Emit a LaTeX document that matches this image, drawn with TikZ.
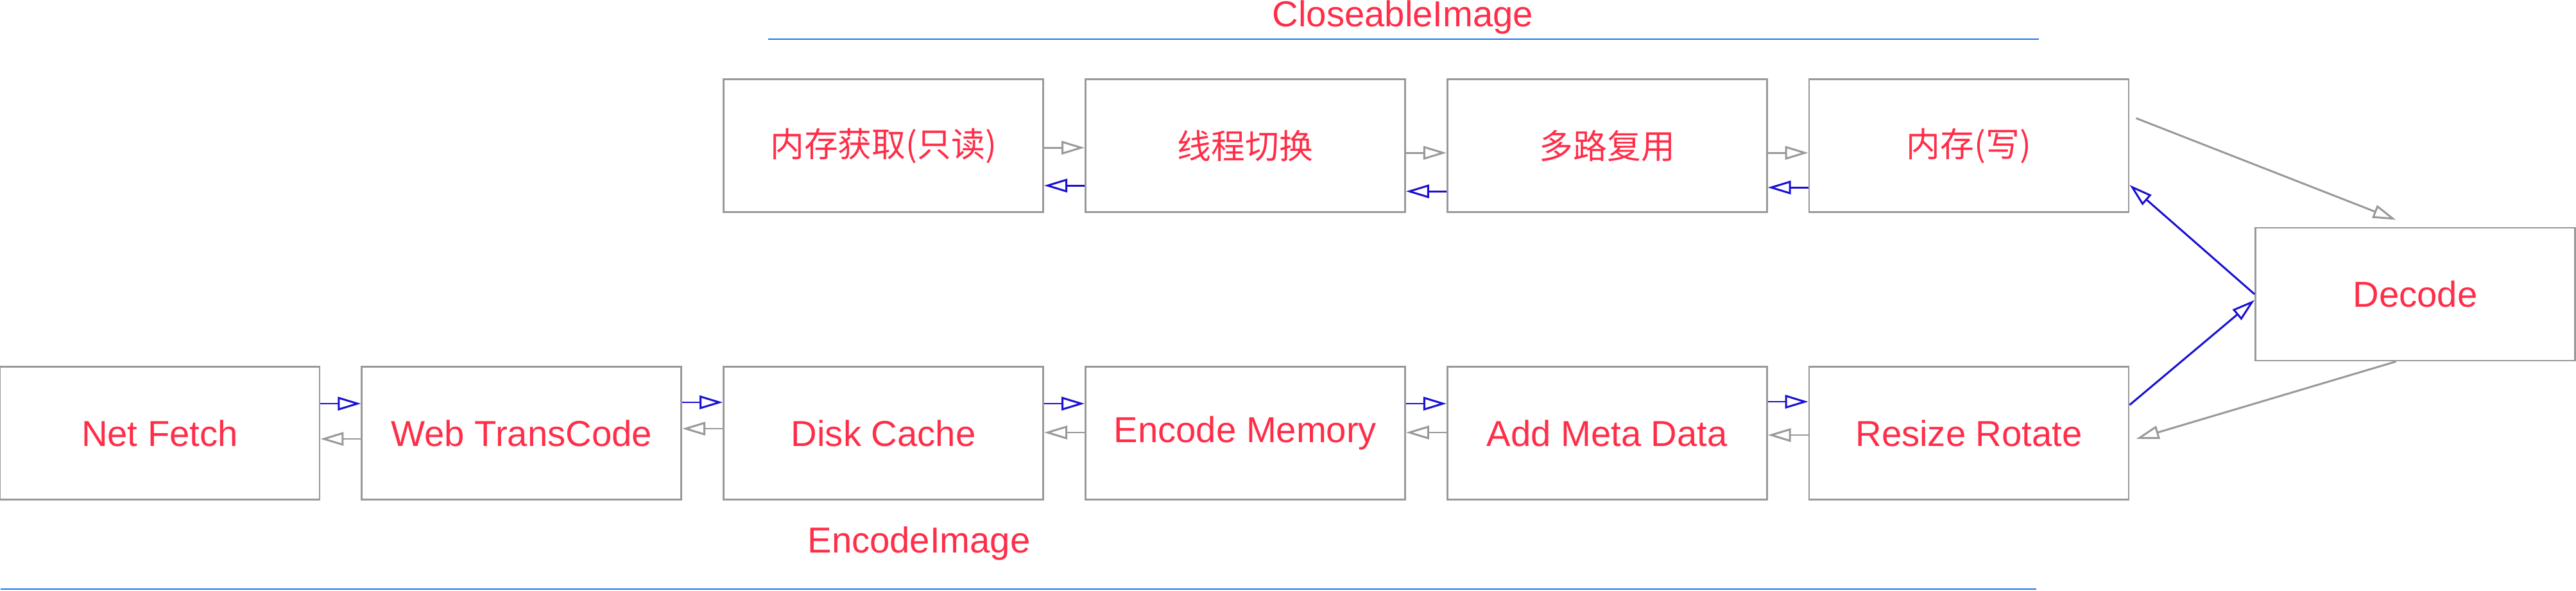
\documentclass[tikz,border=0pt]{standalone}
\usepackage{fontspec}
\setmainfont{Liberation Sans}
\newfontfamily\cjk{Noto Sans CJK SC}[Scale=0.94]
\usepackage{tikz}
\usetikzlibrary{arrows.meta}
\usetikzlibrary{positioning}
\definecolor{boxgray}{HTML}{999999}
\definecolor{txtred}{HTML}{FF2D48}
\definecolor{arrblue}{HTML}{1A10D0}
\definecolor{lineblue}{HTML}{1677F5}

\begin{document}
\begin{tikzpicture}
          [stage/.style={draw=boxgray, line width=0.8pt, minimum width=4.98cm,
                         minimum height=2.07cm, inner sep=0pt, text=txtred,
                         font=\fontsize{16}{19}\selectfont},
           caption/.style={text=txtred, anchor=base, font=\fontsize{16}{19}\selectfont},
           grayarr/.style={draw=boxgray, line width=0.85pt,
                           -{Triangle[open, length=3.6mm, width=2.1mm]}},
           bluearr/.style={draw=arrblue, line width=0.85pt,
                           -{Triangle[open, length=3.6mm, width=2.1mm]}},
           node distance=0.63cm]
          \useasboundingbox (0,0) rectangle (40.14,-9.21);

          \node (net) [stage] at (2.49,-6.75) {Net Fetch};
          \node (web) [stage, right = of net] {Web TransCode};
          \node (disk) [stage, right = of web] {Disk Cache};
          \node (encmem) [stage, right = of disk] {Encode Memory};
          \node (meta) [stage, right = of encmem] {Add Meta Data};
          \node (resize) [stage, right = of meta] {Resize Rotate};

          \node (rmem) [stage, above = 2.38cm of disk] {\cjk 内存获取(只读)};
          \node (thread) [stage, right = of rmem] {\cjk 线程切换};
          \node (multi) [stage, right = of thread] {\cjk 多路复用};
          \node (wmem) [stage, right = of multi] {\cjk 内存(写)};

          \node (decode) [stage] at (37.635,-4.585) {Decode};

          \node (closeimg) [caption] at (21.86,-0.42) {CloseableImage};
          \node (encimg) [caption] at (14.32,-8.61) {EncodeImage};
          \draw[lineblue, line width=0.85pt] (11.97,-0.61) -- (31.77,-0.61);
          \draw[lineblue, line width=0.85pt] (0.01,-9.18) -- (31.73,-9.18);

          % top row
          \draw[grayarr] ([yshift=-0.03cm]rmem.east) -- ([yshift=-0.03cm]thread.west);
          \draw[bluearr] ([yshift=-0.62cm]thread.west) -- ([yshift=-0.62cm]rmem.east);
          \draw[grayarr] ([yshift=-0.11cm]thread.east) -- ([yshift=-0.11cm]multi.west);
          \draw[bluearr] ([yshift=-0.71cm]multi.west) -- ([yshift=-0.71cm]thread.east);
          \draw[grayarr] ([yshift=-0.11cm]multi.east) -- ([yshift=-0.11cm]wmem.west);
          \draw[bluearr] ([yshift=-0.65cm]wmem.west) -- ([yshift=-0.65cm]multi.east);

          % decode
          \draw[grayarr] ([xshift=0.1cm, yshift=0.43cm]wmem.east) -- ([xshift=-0.3cm, yshift=0.11cm]decode.north);
          \draw[bluearr] (decode.west) -- ([yshift=-0.61cm]wmem.east);
          \draw[bluearr] ([yshift=0.44cm]resize.east) -- ([yshift=-0.09cm]decode.west);
          \draw[grayarr] ([xshift=-0.3cm]decode.south) -- ([xshift=0.1cm, yshift=-0.09cm]resize.east);

          % bottom row
          \draw[bluearr] ([yshift=0.46cm]net.east) -- ([yshift=0.46cm]web.west);
          \draw[grayarr] ([yshift=-0.09cm]web.west) -- ([yshift=-0.09cm]net.east);
          \draw[bluearr] ([yshift=0.48cm]web.east) -- ([yshift=0.48cm]disk.west);
          \draw[grayarr] ([yshift=0.07cm]disk.west) -- ([yshift=0.07cm]web.east);
          \draw[bluearr] ([yshift=0.46cm]disk.east) -- ([yshift=0.46cm]encmem.west);
          \draw[grayarr] ([yshift=0.01cm]encmem.west) -- ([yshift=0.01cm]disk.east);
          \draw[bluearr] ([yshift=0.46cm]encmem.east) -- ([yshift=0.46cm]meta.west);
          \draw[grayarr] ([yshift=0.01cm]meta.west) -- ([yshift=0.01cm]encmem.east);
          \draw[bluearr] ([yshift=0.49cm]meta.east) -- ([yshift=0.49cm]resize.west);
          \draw[grayarr] ([yshift=-0.03cm]resize.west) -- ([yshift=-0.03cm]meta.east);

        \end{tikzpicture}
\end{document}
